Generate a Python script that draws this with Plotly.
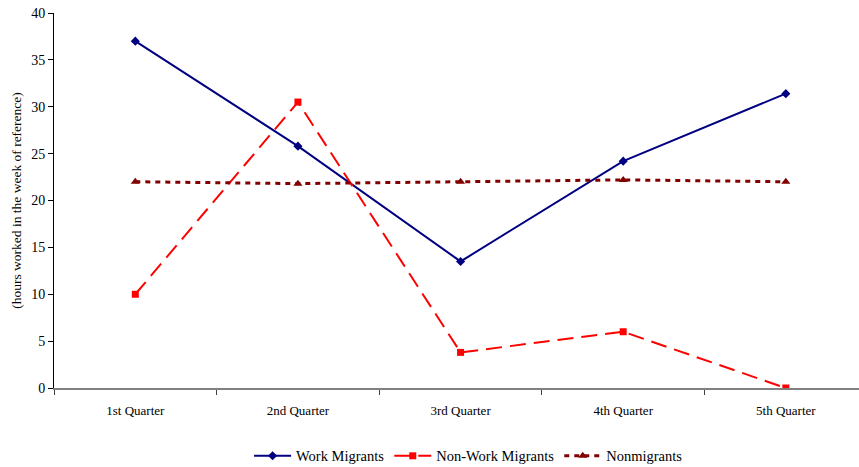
import plotly.graph_objects as go

quarters = ["1st Quarter", "2nd Quarter", "3rd Quarter", "4th Quarter", "5th Quarter"]
work_migrants = [37.0, 25.8, 13.5, 24.2, 31.4]
non_work_migrants = [10.0, 30.5, 3.8, 6.0, 0.0]
nonmigrants = [22.0, 21.8, 22.0, 22.2, 22.0]

y_ticks = [0, 5, 10, 15, 20, 25, 30, 35, 40]

font_family = "Liberation Serif, Times New Roman, serif"

fig = go.Figure()
fig.add_trace(go.Scatter(
    x=quarters, y=work_migrants, name="Work Migrants", mode="lines+markers",
    line=dict(color="#000080", width=2),
    marker=dict(symbol="diamond", size=7, color="#000080"),
))
fig.add_trace(go.Scatter(
    x=quarters, y=non_work_migrants, name="Non-Work Migrants", mode="lines+markers",
    line=dict(color="#FF0000", width=2, dash="16px,8px"),
    marker=dict(symbol="square", size=7, color="#FF0000"),
))
fig.add_trace(go.Scatter(
    x=quarters, y=nonmigrants, name="Nonmigrants", mode="lines+markers",
    line=dict(color="#800000", width=3, dash="5px,5px"),
    marker=dict(symbol="triangle-up", size=8, color="#800000"),
))

fig.update_layout(
    width=859, height=467,
    margin=dict(l=54, r=0, t=13, b=79, autoexpand=False),
    paper_bgcolor="white", plot_bgcolor="white",
    font=dict(family=font_family, size=13, color="black"),
    showlegend=True,
    legend=dict(
        orientation="h", x=0.515, xanchor="center", y=-0.181, yanchor="middle",
        font=dict(family=font_family, size=14.5, color="black"),
        itemwidth=37, tracegroupgap=0,
    ),
)
fig.update_xaxes(
    type="category", range=[-0.5, 4.45],
    showline=True, linecolor="#808080", linewidth=2,
    ticks="outside", tickson="boundaries", ticklen=5, tickcolor="#404040",
    showgrid=False, zeroline=False,
    ticklabelstandoff=9,
    tickfont=dict(family=font_family, size=13),
)
fig.update_yaxes(
    range=[0, 40], tickvals=y_ticks,
    showline=True, linecolor="black", linewidth=1,
    ticks="outside", ticklen=5, tickcolor="black",
    showgrid=False, zeroline=False,
    tickfont=dict(family=font_family, size=14),
    title=dict(text="(hours worked in the week of reference)", standoff=6,
               font=dict(family=font_family, size=13.5)),
)

fig.write_html("out.html")
